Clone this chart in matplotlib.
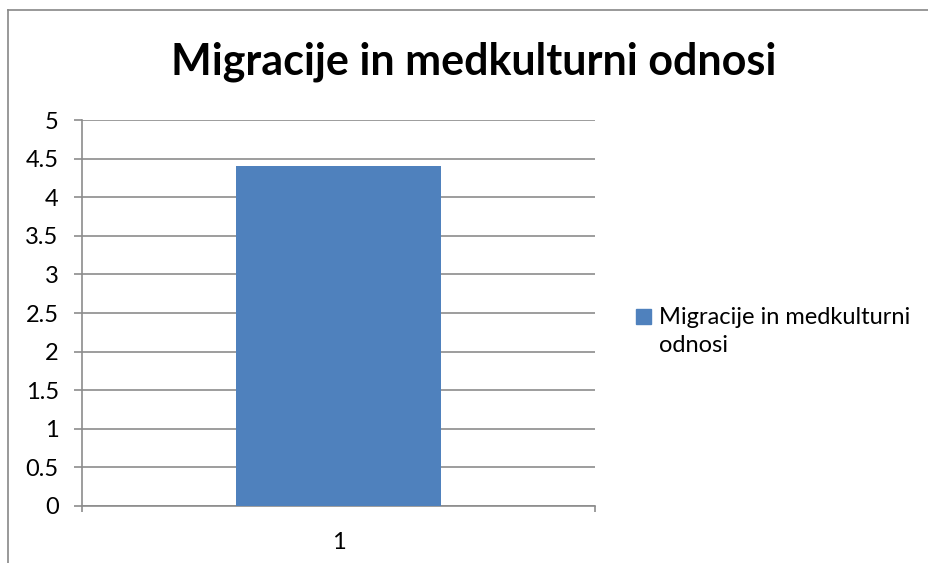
import matplotlib.pyplot as plt
from matplotlib.patches import Patch
from matplotlib.lines import Line2D

# data
categories = ['1']
values = [4.4]
series_name = 'Migracije in medkulturni odnosi'
title = 'Migracije in medkulturni odnosi'
y_ticks = [0, 0.5, 1, 1.5, 2, 2.5, 3, 3.5, 4, 4.5, 5]

BAR_COLOR = '#4f81bd'
GRID_GRAY = '#8c8c8c'
FONT = ['Lato', 'DejaVu Sans']
FS = 17

plt.rcParams['font.family'] = FONT

W, H = 929, 563
fig = plt.figure(figsize=(W / 100, H / 100), dpi=100)
ax = fig.add_axes([82 / W, 1 - 506 / H, (595 - 82) / W, (506 - 120) / H])

x = list(range(len(categories)))
ax.bar(x, values, width=0.4, color=BAR_COLOR, zorder=3)
ax.set_xlim(-0.5, len(categories) - 0.5)
ax.set_ylim(0, 5)
ax.set_yticks(y_ticks, labels=[f'{t:g}' for t in y_ticks])
ax.yaxis.grid(True, color=GRID_GRAY, linewidth=1.2, zorder=0)
ax.set_axisbelow(True)

# x tick marks on category edges, label at center
ax.set_xticks([-0.5 + i for i in range(len(categories) + 1)], labels=[''] * (len(categories) + 1))
ax.set_xticks(x, labels=categories, minor=True)
ax.tick_params(axis='x', which='minor', length=0, labelsize=FS, pad=19)
ax.tick_params(axis='x', which='major', length=4.3, color=GRID_GRAY, width=1.2)
ax.tick_params(axis='y', length=5.8, color=GRID_GRAY, width=1.2, labelsize=FS, pad=11)

for side in ['top', 'right']:
    ax.spines[side].set_visible(False)
for side in ['left', 'bottom']:
    ax.spines[side].set_color(GRID_GRAY)
    ax.spines[side].set_linewidth(1.2)

fig.text(474 / W, 1 - 62 / H, title, ha='center', va='center',
         fontsize=31, fontweight='bold')

# outer chart frame
fig.add_artist(Line2D([8 / W, 8 / W], [0, 1 - 10 / H], color='#888888', lw=1.2))
fig.add_artist(Line2D([8 / W, 1], [1 - 10 / H, 1 - 10 / H], color='#888888', lw=1.2))

label = series_name.replace(' odnosi', '\nodnosi')
leg = fig.legend(handles=[Patch(color=BAR_COLOR)], labels=[label],
                 loc='upper left', bbox_to_anchor=(636 / W, 1 - 307 / H),
                 frameon=False, fontsize=FS, handlelength=0.62, handleheight=0.62,
                 handletextpad=0.35, borderaxespad=0, borderpad=0)
for t in leg.get_texts():
    t.set_linespacing(1.4)
# put the colour square level with the first line
h = leg.legend_handles[0]
h.set_y(h.get_y() + 11)

fig.savefig('out.png', dpi=100)
